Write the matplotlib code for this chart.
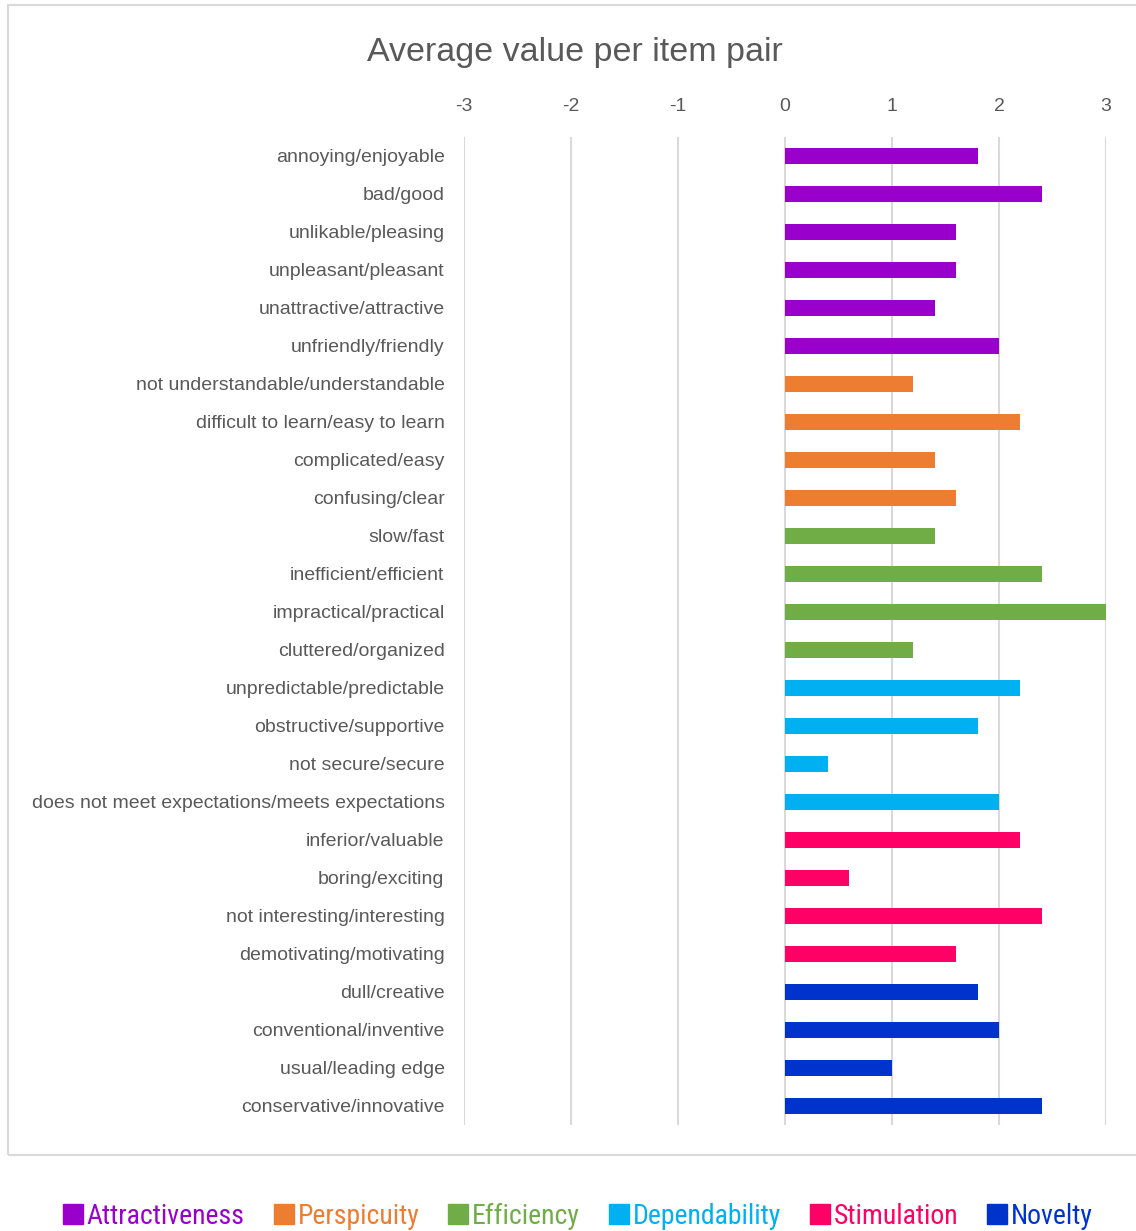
import matplotlib.pyplot as plt
from matplotlib.lines import Line2D
from matplotlib.patches import Rectangle

itens = [
    "annoying/enjoyable", "bad/good", "unlikable/pleasing", "unpleasant/pleasant",
    "unattractive/attractive", "unfriendly/friendly",
    "not understandable/understandable", "difficult to learn/easy to learn",
    "complicated/easy", "confusing/clear",
    "slow/fast", "inefficient/efficient", "impractical/practical", "cluttered/organized",
    "unpredictable/predictable", "obstructive/supportive", "not secure/secure",
    "does not meet expectations/meets expectations",
    "inferior/valuable", "boring/exciting", "not interesting/interesting",
    "demotivating/motivating",
    "dull/creative", "conventional/inventive", "usual/leading edge",
    "conservative/innovative",
]
valores = [1.8, 2.4, 1.6, 1.6, 1.4, 2.0,
           1.2, 2.2, 1.4, 1.6,
           1.4, 2.4, 3.0, 1.2,
           2.2, 1.8, 0.4, 2.0,
           2.2, 0.6, 2.4, 1.6,
           1.8, 2.0, 1.0, 2.4]
escalas = ["Attractiveness", "Perspicuity", "Efficiency", "Dependability", "Stimulation", "Novelty"]
n_por_escala = [6, 4, 4, 4, 4, 4]
cores = ["#9900CC", "#ED7D31", "#70AD47", "#00B0F0", "#FF0066", "#0033CC"]
ticks = [-3, -2, -1, 0, 1, 2, 3]

cores_barras = []
for cor, n in zip(cores, n_por_escala):
    cores_barras += [cor] * n

plt.rcParams["font.family"] = ["Liberation Sans", "DejaVu Sans"]

fig = plt.figure(figsize=(11.36, 12.31), dpi=100)
ax = fig.add_axes([464 / 1136, 1 - 1125 / 1231, 642 / 1136, 988 / 1231])

pos = list(range(len(itens)))
ax.barh(pos, valores, height=0.42, color=cores_barras, zorder=3)

ax.set_xlim(-3, 3)
ax.set_ylim(len(itens) - 0.5, -0.5)
ax.set_xticks(ticks)
ax.set_xticklabels([str(t) for t in ticks])
ax.xaxis.tick_top()
ax.set_yticks(pos)
ax.set_yticklabels(itens)
ax.tick_params(axis="both", length=0, labelsize=14, colors="#595959")
ax.tick_params(axis="y", pad=14)
ax.tick_params(axis="x", pad=16)
ax.grid(axis="x", color="#D9D9D9", linewidth=1.5, zorder=0)
for s in ax.spines.values():
    s.set_visible(False)

fig.text(575 / 1136, 1 - 52 / 1231, "Average value per item pair", ha="center", va="center",
         fontsize=24.5, color="#595959")

# borda do gráfico
fig.patches.append(Rectangle((8 / 1136, 1 - 1155 / 1231), 1.0, 1150 / 1231,
                             transform=fig.transFigure, fill=False,
                             edgecolor="#D9D9D9", linewidth=1.5, clip_on=False))

handles = [Line2D([], [], marker="s", linestyle="none", markersize=15,
                  markerfacecolor=c, markeredgecolor=c) for c in cores]
fig.legend(handles, escalas, loc="center", bbox_to_anchor=(576 / 1136, 1 - 1216 / 1231),
           ncol=6, frameon=False, handletextpad=0.0, columnspacing=0.9,
           handlelength=1.0, labelcolor=cores,
           prop={"family": ["Roboto Condensed", "Liberation Sans Narrow", "Roboto", "DejaVu Sans"],
                 "size": 20})

plt.savefig("out.png", dpi=100)
